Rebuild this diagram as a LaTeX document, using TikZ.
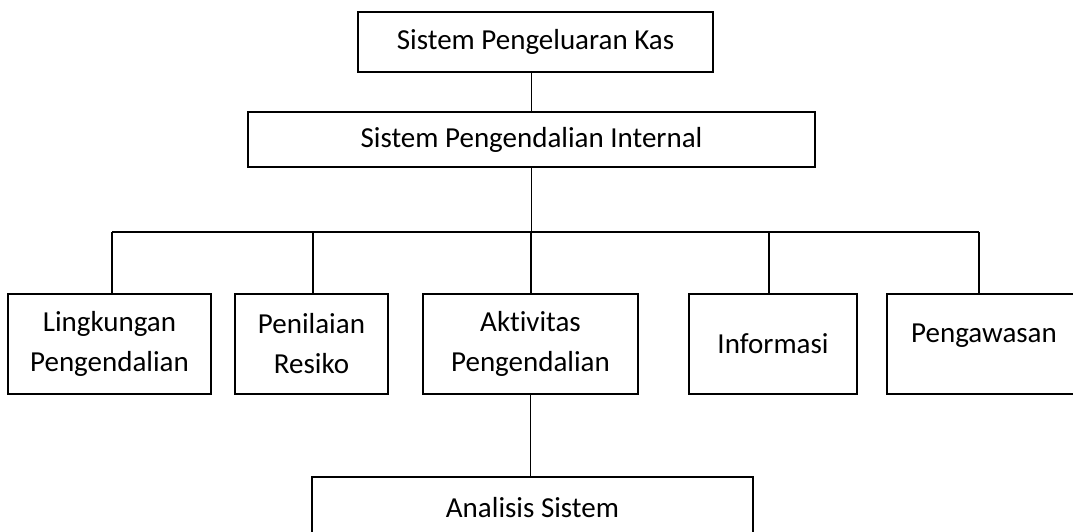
\documentclass[tikz,border=0pt]{standalone}
\usepackage{fontspec}
\setmainfont{Carlito}[Ligatures={NoCommon}]

\tikzset{
  box/.style={draw, line width=2.2pt, align=center, inner sep=0pt},
  conn/.style={line width=1.1pt}
}

\begin{document}
\begin{tikzpicture}[x=1pt, y=-1pt, font=\fontsize{29}{40}\selectfont]
    % Page frame
    \useasboundingbox (0,0) rectangle (1073,531);
    \fill[white] (0,0) rectangle (1073,531);
    \clip (0,0) rectangle (1073,531);

    % Top boxes
    \node[box, minimum width=355pt, minimum height=60pt] (kas) at (535.5,42) {Sistem Pengeluaran Kas};
    \node[box, minimum width=567pt, minimum height=55pt] (spi) at (531.5,139.5) {Sistem Pengendalian Internal};

    % Component boxes
    \node[box, minimum width=203pt, minimum height=100pt] (ling) at (109.5,344) {Lingkungan\\Pengendalian};
    \node[box, minimum width=153pt, minimum height=100pt] (nilai) at (311.5,344) {Penilaian\\Resiko};
    \node[box, minimum width=215pt, minimum height=100pt] (akt) at (530.5,344) {Aktivitas\\Pengendalian};
    \node[box, minimum width=168pt, minimum height=100pt] (info) at (773,344) {Informasi};
    \node[box, minimum width=194pt, minimum height=100pt, text depth=22pt] (awas) at (984,344) {Pengawasan};

    % Bottom box
    \node[box, minimum width=441pt, minimum height=62pt] (anal) at (532.5,508) {Analisis Sistem};

    % Connectors
    \draw[conn] (spi.north) -- (spi.north |- kas.south);
    \foreach \n/\x in {ling/112, nilai/313, akt/531, info/769, awas/979}{
        \coordinate (drop-\n) at (\x,232);
        \draw[conn] (drop-\n) -- (drop-\n |- \n.north);
    }
    \draw[conn] (drop-ling) -- (drop-awas);
    \draw[conn] (spi.south) -- (spi.south |- drop-akt);
    \draw[conn] (akt.south) -- (akt.south |- anal.north);
\end{tikzpicture}
\end{document}
